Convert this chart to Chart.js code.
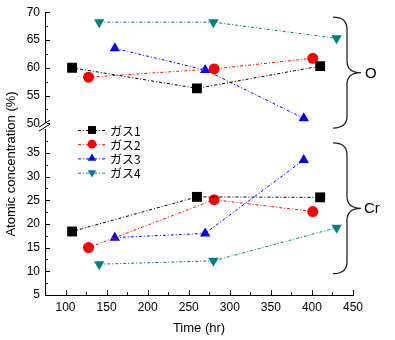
<!DOCTYPE html>
<html>
<head>
<meta charset="utf-8">
<script src="https://cdn.jsdelivr.net/npm/chart.js"></script>
<style>
  body { margin: 0; background: #fff; }
  #wrap { width: 395px; height: 340px; }
</style>
</head>
<body>
<div id="wrap"><canvas id="chart"></canvas></div>
<script>
// values
const gasLabels = ['ガス1', 'ガス2', 'ガス3', 'ガス4'];
const gasTimes = [
    [108, 260, 410],
    [128, 281, 401],
    [160, 270, 390],
    [141, 280, 430]
];
const oxygenValues = [
    [60.0, 56.3, 60.3],
    [58.3, 59.8, 61.7],
    [63.5, 59.6, 50.9],
    [68.2, 68.2, 65.3]
];
const chromiumValues = [
    [18.4, 25.7, 25.6],
    [15.0, 25.1, 22.6],
    [17.1, 18.0, 33.5],
    [11.5, 12.2, 19.2]
];
const xTicks = [100, 150, 200, 250, 300, 350, 400, 450];
const xMinorTicks = [125, 175, 225, 275, 325, 375, 425];
const oTicks = [50, 55, 60, 65, 70];
const oMinorTicks = [52.5, 57.5, 62.5, 67.5];
const crTicks = [5, 10, 15, 20, 25, 30, 35];
const crMinorTicks = [7.5, 12.5, 17.5, 22.5, 27.5, 32.5, 37.5];

const gasColors = ['#000000', '#ff0000', '#0000ff', '#008080'];
const gasMarkers = ['rect', 'circle', 'triangle', 'triangle'];
const gasRotation = [0, 0, 0, 180];
const gasRadius = [7, 5.5, 6, 6];
const lineDash = [3, 2, 1, 2];
const fontFamily = 'Arial, "Liberation Sans", sans-serif';

function makeDataset(i, values, axisId) {
    return {
        label: gasLabels[i],
        data: gasTimes[i].map((t, k) => ({ x: t, y: values[k] })),
        yAxisID: axisId,
        borderColor: gasColors[i],
        backgroundColor: gasColors[i],
        borderWidth: 1,
        borderDash: lineDash,
        pointStyle: gasMarkers[i],
        rotation: gasRotation[i],
        pointRadius: gasRadius[i],
        pointBorderWidth: 0,
        tension: 0
    };
}

const datasets = [];
gasLabels.forEach((g, i) => {
    datasets.push(makeDataset(i, oxygenValues[i], 'yO'));
    datasets.push(makeDataset(i, chromiumValues[i], 'yCr'));
});

function drawMarker(ctx, style, rotation, x, y, r) {
    ctx.beginPath();
    if (style === 'rect') {
        const s = r * Math.SQRT1_2;
        ctx.rect(x - s, y - s, 2 * s, 2 * s);
    } else if (style === 'circle') {
        ctx.arc(x, y, r, 0, Math.PI * 2);
    } else {
        const dir = rotation === 180 ? -1 : 1;
        ctx.moveTo(x, y - dir * r);
        ctx.lineTo(x + r * 0.866, y + dir * r * 0.5);
        ctx.lineTo(x - r * 0.866, y + dir * r * 0.5);
        ctx.closePath();
    }
    ctx.fill();
}

function drawBrace(ctx, x0, x1, x2, top, bottom) {
    const mid = (top + bottom) / 2;
    const c = 12;
    ctx.beginPath();
    ctx.moveTo(x0, top);
    ctx.quadraticCurveTo(x1, top, x1, top + c);
    ctx.lineTo(x1, mid - c);
    ctx.quadraticCurveTo(x1, mid, x2, mid);
    ctx.quadraticCurveTo(x1, mid, x1, mid + c);
    ctx.lineTo(x1, bottom - c);
    ctx.quadraticCurveTo(x1, bottom, x0, bottom);
    ctx.stroke();
}

const decorPlugin = {
    id: 'decor',
    afterDraw(chart) {
        const ctx = chart.ctx;
        const area = chart.chartArea;
        const sx = chart.scales.x, sO = chart.scales.yO, sCr = chart.scales.yCr;
        ctx.save();
        ctx.strokeStyle = '#000';
        ctx.lineWidth = 1;

        // inward ticks
        ctx.beginPath();
        xTicks.forEach(v => { const p = Math.round(sx.getPixelForValue(v)) + 0.5; ctx.moveTo(p, area.bottom); ctx.lineTo(p, area.bottom - 5); });
        xMinorTicks.forEach(v => { const p = Math.round(sx.getPixelForValue(v)) + 0.5; ctx.moveTo(p, area.bottom); ctx.lineTo(p, area.bottom - 3); });
        oTicks.forEach(v => { const p = Math.round(sO.getPixelForValue(v)) + 0.5; ctx.moveTo(area.left, p); ctx.lineTo(area.left + 5, p); });
        oMinorTicks.forEach(v => { const p = Math.round(sO.getPixelForValue(v)) + 0.5; ctx.moveTo(area.left, p); ctx.lineTo(area.left + 3, p); });
        crTicks.forEach(v => { const p = Math.round(sCr.getPixelForValue(v)) + 0.5; ctx.moveTo(area.left, p); ctx.lineTo(area.left + 5, p); });
        crMinorTicks.forEach(v => { const p = Math.round(sCr.getPixelForValue(v)) + 0.5; ctx.moveTo(area.left, p); ctx.lineTo(area.left + 3, p); });
        ctx.stroke();

        // axis break
        const by = sO.bottom;
        ctx.fillStyle = '#fff';
        ctx.fillRect(area.left - 2, by - 3, 4, 6);
        ctx.beginPath();
        ctx.moveTo(area.left - 6, by + 1); ctx.lineTo(area.left + 5, by - 6);
        ctx.moveTo(area.left - 6, by + 5); ctx.lineTo(area.left + 5, by - 2);
        ctx.stroke();

        // y title
        ctx.fillStyle = '#000';
        ctx.font = '13px ' + fontFamily;
        ctx.textAlign = 'center';
        ctx.textBaseline = 'middle';
        ctx.translate(11, 164);
        ctx.rotate(-Math.PI / 2);
        ctx.fillText('Atomic concentration (%)', 0, 0);
        ctx.setTransform(1, 0, 0, 1, 0, 0);

        // braces with element labels
        ctx.strokeStyle = '#222';
        ctx.lineWidth = 1.3;
        drawBrace(ctx, 333, 347, 361, sO.top + 5, sO.bottom + 2);
        drawBrace(ctx, 333, 347, 361, sCr.getPixelForValue(37.5) + 2, sCr.getPixelForValue(9.5));
        ctx.fillStyle = '#000';
        ctx.font = '15px ' + fontFamily;
        ctx.textAlign = 'left';
        ctx.fillText('O', 365, (sO.top + 5 + sO.bottom + 2) / 2 + 1);
        ctx.fillText('Cr', 364, (sCr.getPixelForValue(37.5) + 2 + sCr.getPixelForValue(9.5)) / 2 + 1);

        // legend
        ctx.font = '12px "Noto Sans CJK JP", ' + fontFamily;
        gasLabels.forEach((label, i) => {
            const y = 130 + i * 14.2;
            ctx.strokeStyle = gasColors[i];
            ctx.fillStyle = gasColors[i];
            ctx.lineWidth = 1;
            ctx.setLineDash(lineDash);
            ctx.beginPath();
            ctx.moveTo(78, y + 0.5); ctx.lineTo(107, y + 0.5);
            ctx.stroke();
            ctx.setLineDash([]);
            drawMarker(ctx, gasMarkers[i], gasRotation[i], 92, y, gasRadius[i] * 0.8);
            ctx.fillStyle = '#000';
            ctx.fillText(label, 110, y + 1);
        });
        ctx.restore();
    }
};

const tickFont = { family: fontFamily, size: 12 };

const chart = new Chart(document.getElementById('chart'), {
    type: 'line',
    data: { datasets },
    options: {
        responsive: true,
        maintainAspectRatio: false,
        animation: false,
        layout: { padding: { top: 10, right: 42, left: 0, bottom: 0 } },
        plugins: { legend: { display: false }, tooltip: { enabled: false } },
        scales: {
            x: {
                type: 'linear', min: 75, max: 450,
                afterBuildTicks: a => { a.ticks = xTicks.map(v => ({ value: v })); },
                afterFit: s => { s.height = 45; },
                grid: { display: false, drawTicks: false },
                border: { color: '#000', width: 1 },
                ticks: { color: '#000', font: tickFont, padding: 5, maxRotation: 0, autoSkip: false },
                title: { display: true, text: 'Time (hr)', color: '#000', font: { family: fontFamily, size: 13 }, padding: { top: 2, bottom: 4 } }
            },
            yCr: {
                type: 'linear', position: 'left', stack: 'y', stackWeight: 170.2,
                min: 5, max: 40.63,
                afterBuildTicks: a => { a.ticks = crTicks.map(v => ({ value: v })); },
                afterFit: s => { s.width = 45; },
                grid: { display: false, drawTicks: false },
                border: { color: '#000', width: 1 },
                ticks: { color: '#000', font: tickFont, padding: 5, autoSkip: false }
            },
            yO: {
                type: 'linear', position: 'left', stack: 'y', stackWeight: 114.8,
                min: 49.5, max: 70,
                afterBuildTicks: a => { a.ticks = oTicks.map(v => ({ value: v })); },
                afterFit: s => { s.width = 45; },
                grid: { display: false, drawTicks: false },
                border: { color: '#000', width: 1 },
                ticks: { color: '#000', font: tickFont, padding: 5, autoSkip: false }
            }
        }
    },
    plugins: [decorPlugin]
});
</script>
</body>
</html>
